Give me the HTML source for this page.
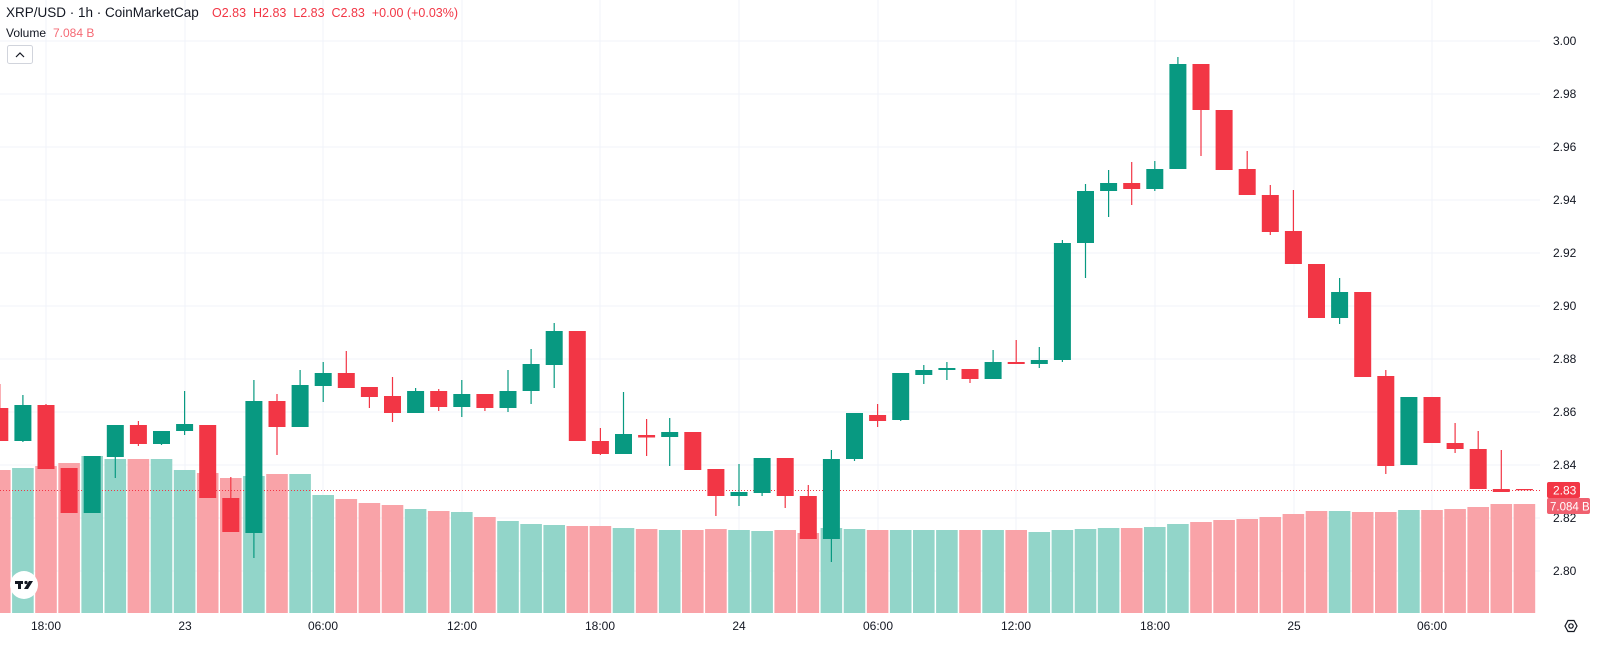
<!DOCTYPE html>
<html><head><meta charset="utf-8"><style>
html,body{margin:0;padding:0;background:#fff;width:1600px;height:647px;overflow:hidden}
svg{display:block;font-family:"Liberation Sans",sans-serif}
.g{fill:#089981}.r{fill:#f23645}.gw{stroke:#089981}.rw{stroke:#f23645}
.vg{fill:#92d5c9}.vr{fill:#f9a3a8}
</style></head><body>
<svg width="1600" height="647" viewBox="0 0 1600 647" xmlns="http://www.w3.org/2000/svg">
<g stroke="#f0f3fa" stroke-width="1">
<line x1="0" x2="1540" y1="41" y2="41"/><line x1="0" x2="1540" y1="94" y2="94"/><line x1="0" x2="1540" y1="147" y2="147"/><line x1="0" x2="1540" y1="200" y2="200"/><line x1="0" x2="1540" y1="253" y2="253"/><line x1="0" x2="1540" y1="306" y2="306"/><line x1="0" x2="1540" y1="359" y2="359"/><line x1="0" x2="1540" y1="412" y2="412"/><line x1="0" x2="1540" y1="465" y2="465"/><line x1="0" x2="1540" y1="518" y2="518"/><line x1="0" x2="1540" y1="571" y2="571"/>
<line x1="46" x2="46" y1="0" y2="613"/><line x1="185" x2="185" y1="0" y2="613"/><line x1="323" x2="323" y1="0" y2="613"/><line x1="462" x2="462" y1="0" y2="613"/><line x1="600" x2="600" y1="0" y2="613"/><line x1="739" x2="739" y1="0" y2="613"/><line x1="878" x2="878" y1="0" y2="613"/><line x1="1016" x2="1016" y1="0" y2="613"/><line x1="1155" x2="1155" y1="0" y2="613"/><line x1="1294" x2="1294" y1="0" y2="613"/><line x1="1432" x2="1432" y1="0" y2="613"/>
</g>
<g>
<rect class="vr" x="-11" y="470" width="21.6" height="143"/>
<rect class="vg" x="12.1" y="468" width="21.6" height="145"/>
<rect class="vr" x="35.2" y="466" width="21.6" height="147"/>
<rect class="vr" x="58.3" y="463" width="21.6" height="150"/>
<rect class="vg" x="81.4" y="456" width="21.6" height="157"/>
<rect class="vg" x="104.5" y="459" width="21.6" height="154"/>
<rect class="vr" x="127.6" y="459" width="21.6" height="154"/>
<rect class="vg" x="150.7" y="459" width="21.6" height="154"/>
<rect class="vg" x="173.8" y="470" width="21.6" height="143"/>
<rect class="vr" x="196.9" y="473" width="21.6" height="140"/>
<rect class="vr" x="220" y="478" width="21.6" height="135"/>
<rect class="vg" x="243.1" y="476" width="21.6" height="137"/>
<rect class="vr" x="266.2" y="474" width="21.6" height="139"/>
<rect class="vg" x="289.3" y="474" width="21.6" height="139"/>
<rect class="vg" x="312.4" y="495" width="21.6" height="118"/>
<rect class="vr" x="335.5" y="499" width="21.6" height="114"/>
<rect class="vr" x="358.6" y="503" width="21.6" height="110"/>
<rect class="vr" x="381.7" y="505" width="21.6" height="108"/>
<rect class="vg" x="404.8" y="509" width="21.6" height="104"/>
<rect class="vr" x="427.9" y="511" width="21.6" height="102"/>
<rect class="vg" x="451" y="512" width="21.6" height="101"/>
<rect class="vr" x="474.1" y="517" width="21.6" height="96"/>
<rect class="vg" x="497.2" y="521" width="21.6" height="92"/>
<rect class="vg" x="520.3" y="524" width="21.6" height="89"/>
<rect class="vg" x="543.4" y="525" width="21.6" height="88"/>
<rect class="vr" x="566.5" y="526" width="21.6" height="87"/>
<rect class="vr" x="589.6" y="526" width="21.6" height="87"/>
<rect class="vg" x="612.7" y="528" width="21.6" height="85"/>
<rect class="vr" x="635.8" y="529" width="21.6" height="84"/>
<rect class="vg" x="658.9" y="530" width="21.6" height="83"/>
<rect class="vr" x="682" y="530" width="21.6" height="83"/>
<rect class="vr" x="705.1" y="529" width="21.6" height="84"/>
<rect class="vg" x="728.2" y="530" width="21.6" height="83"/>
<rect class="vg" x="751.3" y="531" width="21.6" height="82"/>
<rect class="vr" x="774.4" y="530" width="21.6" height="83"/>
<rect class="vr" x="797.5" y="533" width="21.6" height="80"/>
<rect class="vg" x="820.6" y="528" width="21.6" height="85"/>
<rect class="vg" x="843.7" y="529" width="21.6" height="84"/>
<rect class="vr" x="866.8" y="530" width="21.6" height="83"/>
<rect class="vg" x="889.9" y="530" width="21.6" height="83"/>
<rect class="vg" x="913" y="530" width="21.6" height="83"/>
<rect class="vg" x="936.1" y="530" width="21.6" height="83"/>
<rect class="vr" x="959.2" y="530" width="21.6" height="83"/>
<rect class="vg" x="982.3" y="530" width="21.6" height="83"/>
<rect class="vr" x="1005.4" y="530" width="21.6" height="83"/>
<rect class="vg" x="1028.5" y="532" width="21.6" height="81"/>
<rect class="vg" x="1051.6" y="530" width="21.6" height="83"/>
<rect class="vg" x="1074.7" y="529" width="21.6" height="84"/>
<rect class="vg" x="1097.8" y="528" width="21.6" height="85"/>
<rect class="vr" x="1120.9" y="528" width="21.6" height="85"/>
<rect class="vg" x="1144" y="527" width="21.6" height="86"/>
<rect class="vg" x="1167.1" y="524" width="21.6" height="89"/>
<rect class="vr" x="1190.2" y="522" width="21.6" height="91"/>
<rect class="vr" x="1213.3" y="520" width="21.6" height="93"/>
<rect class="vr" x="1236.4" y="519" width="21.6" height="94"/>
<rect class="vr" x="1259.5" y="517" width="21.6" height="96"/>
<rect class="vr" x="1282.6" y="514" width="21.6" height="99"/>
<rect class="vr" x="1305.7" y="511" width="21.6" height="102"/>
<rect class="vg" x="1328.8" y="511" width="21.6" height="102"/>
<rect class="vr" x="1351.9" y="512" width="21.6" height="101"/>
<rect class="vr" x="1375" y="512" width="21.6" height="101"/>
<rect class="vg" x="1398.1" y="510" width="21.6" height="103"/>
<rect class="vr" x="1421.2" y="510" width="21.6" height="103"/>
<rect class="vr" x="1444.3" y="509" width="21.6" height="104"/>
<rect class="vr" x="1467.4" y="507" width="21.6" height="106"/>
<rect class="vr" x="1490.5" y="504" width="21.6" height="109"/>
<rect class="vr" x="1513.6" y="504" width="21.6" height="109"/>
</g>
<line x1="0" x2="1540" y1="490.5" y2="490.5" stroke="#f23645" stroke-width="1" stroke-dasharray="1,2"/>
<g stroke-width="1.2">
<line class="rw" x1="-0.2" x2="-0.2" y1="384" y2="441"/><rect class="r" x="-8.7" y="408" width="17" height="33"/>
<line class="gw" x1="22.9" x2="22.9" y1="395" y2="442"/><rect class="g" x="14.4" y="405" width="17" height="36"/>
<line class="rw" x1="46" x2="46" y1="404" y2="469"/><rect class="r" x="37.5" y="405" width="17" height="64"/>
<rect class="r" x="60.6" y="468" width="17" height="45"/>
<rect class="g" x="83.7" y="456" width="17" height="57"/>
<line class="gw" x1="115.3" x2="115.3" y1="425" y2="478"/><rect class="g" x="106.8" y="425" width="17" height="32"/>
<line class="rw" x1="138.4" x2="138.4" y1="421" y2="446"/><rect class="r" x="129.9" y="425" width="17" height="19"/>
<line class="gw" x1="161.5" x2="161.5" y1="431" y2="445"/><rect class="g" x="153" y="431" width="17" height="13"/>
<line class="gw" x1="184.6" x2="184.6" y1="391" y2="435"/><rect class="g" x="176.1" y="424" width="17" height="7"/>
<rect class="r" x="199.2" y="425" width="17" height="73"/>
<line class="rw" x1="230.8" x2="230.8" y1="477" y2="532"/><rect class="r" x="222.3" y="498" width="17" height="34"/>
<line class="gw" x1="253.9" x2="253.9" y1="380" y2="558"/><rect class="g" x="245.4" y="401" width="17" height="132"/>
<line class="rw" x1="277" x2="277" y1="394" y2="455"/><rect class="r" x="268.5" y="401" width="17" height="26"/>
<line class="gw" x1="300.1" x2="300.1" y1="370" y2="427"/><rect class="g" x="291.6" y="385" width="17" height="42"/>
<line class="gw" x1="323.2" x2="323.2" y1="362" y2="402"/><rect class="g" x="314.7" y="373" width="17" height="13"/>
<line class="rw" x1="346.3" x2="346.3" y1="351" y2="388"/><rect class="r" x="337.8" y="373" width="17" height="15"/>
<line class="rw" x1="369.4" x2="369.4" y1="387" y2="408"/><rect class="r" x="360.9" y="387" width="17" height="10"/>
<line class="rw" x1="392.5" x2="392.5" y1="377" y2="422"/><rect class="r" x="384" y="396" width="17" height="17"/>
<line class="gw" x1="415.6" x2="415.6" y1="388" y2="413"/><rect class="g" x="407.1" y="391" width="17" height="22"/>
<line class="rw" x1="438.7" x2="438.7" y1="389" y2="411"/><rect class="r" x="430.2" y="391" width="17" height="16"/>
<line class="gw" x1="461.8" x2="461.8" y1="380" y2="417"/><rect class="g" x="453.3" y="394" width="17" height="13"/>
<line class="rw" x1="484.9" x2="484.9" y1="394" y2="411"/><rect class="r" x="476.4" y="394" width="17" height="14"/>
<line class="gw" x1="508" x2="508" y1="370" y2="412"/><rect class="g" x="499.5" y="391" width="17" height="17"/>
<line class="gw" x1="531.1" x2="531.1" y1="349" y2="404"/><rect class="g" x="522.6" y="364" width="17" height="27"/>
<line class="gw" x1="554.2" x2="554.2" y1="323" y2="388"/><rect class="g" x="545.7" y="331" width="17" height="34"/>
<rect class="r" x="568.8" y="331" width="17" height="110"/>
<line class="rw" x1="600.4" x2="600.4" y1="428" y2="455"/><rect class="r" x="591.9" y="441" width="17" height="13"/>
<line class="gw" x1="623.5" x2="623.5" y1="392" y2="454"/><rect class="g" x="615" y="434" width="17" height="20"/>
<line class="rw" x1="646.6" x2="646.6" y1="419" y2="456"/><rect class="r" x="638.1" y="435" width="17" height="2.5"/>
<line class="gw" x1="669.7" x2="669.7" y1="418" y2="466"/><rect class="g" x="661.2" y="432" width="17" height="5"/>
<rect class="r" x="684.3" y="432" width="17" height="38"/>
<line class="rw" x1="715.9" x2="715.9" y1="469" y2="516"/><rect class="r" x="707.4" y="469" width="17" height="27"/>
<line class="gw" x1="739" x2="739" y1="464" y2="506"/><rect class="g" x="730.5" y="492" width="17" height="4"/>
<line class="gw" x1="762.1" x2="762.1" y1="458" y2="496"/><rect class="g" x="753.6" y="458" width="17" height="35"/>
<line class="rw" x1="785.2" x2="785.2" y1="458" y2="508"/><rect class="r" x="776.7" y="458" width="17" height="38"/>
<line class="rw" x1="808.3" x2="808.3" y1="485" y2="539"/><rect class="r" x="799.8" y="496" width="17" height="43"/>
<line class="gw" x1="831.4" x2="831.4" y1="450" y2="562"/><rect class="g" x="822.9" y="459" width="17" height="80"/>
<line class="gw" x1="854.5" x2="854.5" y1="413" y2="461"/><rect class="g" x="846" y="413" width="17" height="46"/>
<line class="rw" x1="877.6" x2="877.6" y1="404" y2="427"/><rect class="r" x="869.1" y="415" width="17" height="6"/>
<line class="gw" x1="900.7" x2="900.7" y1="373" y2="421"/><rect class="g" x="892.2" y="373" width="17" height="47"/>
<line class="gw" x1="923.8" x2="923.8" y1="365" y2="384"/><rect class="g" x="915.3" y="370" width="17" height="5"/>
<line class="gw" x1="946.9" x2="946.9" y1="362" y2="380"/><rect class="g" x="938.4" y="368" width="17" height="2"/>
<line class="rw" x1="970" x2="970" y1="369" y2="383"/><rect class="r" x="961.5" y="369" width="17" height="10"/>
<line class="gw" x1="993.1" x2="993.1" y1="350" y2="379"/><rect class="g" x="984.6" y="362" width="17" height="17"/>
<line class="rw" x1="1016.2" x2="1016.2" y1="340" y2="364"/><rect class="r" x="1007.7" y="362" width="17" height="2"/>
<line class="gw" x1="1039.3" x2="1039.3" y1="347" y2="368"/><rect class="g" x="1030.8" y="360" width="17" height="4"/>
<line class="gw" x1="1062.4" x2="1062.4" y1="240" y2="362"/><rect class="g" x="1053.9" y="243" width="17" height="117"/>
<line class="gw" x1="1085.5" x2="1085.5" y1="184" y2="278"/><rect class="g" x="1077" y="191" width="17" height="52"/>
<line class="gw" x1="1108.6" x2="1108.6" y1="170" y2="217"/><rect class="g" x="1100.1" y="183" width="17" height="8"/>
<line class="rw" x1="1131.7" x2="1131.7" y1="162" y2="205"/><rect class="r" x="1123.2" y="183" width="17" height="6"/>
<line class="gw" x1="1154.8" x2="1154.8" y1="161" y2="191"/><rect class="g" x="1146.3" y="169" width="17" height="20"/>
<line class="gw" x1="1177.9" x2="1177.9" y1="57" y2="169"/><rect class="g" x="1169.4" y="64" width="17" height="105"/>
<line class="rw" x1="1201" x2="1201" y1="64" y2="156"/><rect class="r" x="1192.5" y="64" width="17" height="46"/>
<rect class="r" x="1215.6" y="110" width="17" height="60"/>
<line class="rw" x1="1247.2" x2="1247.2" y1="151" y2="195"/><rect class="r" x="1238.7" y="169" width="17" height="26"/>
<line class="rw" x1="1270.3" x2="1270.3" y1="185" y2="235"/><rect class="r" x="1261.8" y="195" width="17" height="37"/>
<line class="rw" x1="1293.4" x2="1293.4" y1="190" y2="264"/><rect class="r" x="1284.9" y="231" width="17" height="33"/>
<rect class="r" x="1308" y="264" width="17" height="54"/>
<line class="gw" x1="1339.6" x2="1339.6" y1="278" y2="324"/><rect class="g" x="1331.1" y="292" width="17" height="26"/>
<rect class="r" x="1354.2" y="292" width="17" height="85"/>
<line class="rw" x1="1385.8" x2="1385.8" y1="370" y2="474"/><rect class="r" x="1377.3" y="376" width="17" height="90"/>
<rect class="g" x="1400.4" y="397" width="17" height="68"/>
<rect class="r" x="1423.5" y="397" width="17" height="46"/>
<line class="rw" x1="1455.1" x2="1455.1" y1="423" y2="453"/><rect class="r" x="1446.6" y="443" width="17" height="6"/>
<line class="rw" x1="1478.2" x2="1478.2" y1="431" y2="489"/><rect class="r" x="1469.7" y="449" width="17" height="40"/>
<line class="rw" x1="1501.3" x2="1501.3" y1="450" y2="492"/><rect class="r" x="1492.8" y="489" width="17" height="3"/>
<rect class="r" x="1515.9" y="489" width="17" height="1.2"/>
</g>
<g font-size="12" fill="#131722">
<text x="1553" y="45">3.00</text><text x="1553" y="98">2.98</text><text x="1553" y="151">2.96</text><text x="1553" y="204">2.94</text><text x="1553" y="257">2.92</text><text x="1553" y="310">2.90</text><text x="1553" y="363">2.88</text><text x="1553" y="416">2.86</text><text x="1553" y="469">2.84</text><text x="1553" y="522">2.82</text><text x="1553" y="575">2.80</text>
</g>
<rect x="1547" y="482" width="33" height="16" rx="2" fill="#f23645"/>
<text x="1553" y="494.5" font-size="12" fill="#fff">2.83</text>
<rect x="1547" y="498" width="43" height="16" rx="2" fill="#f0606f"/>
<text x="1550" y="510.5" font-size="11.5" fill="#fff">7.084 B</text>
<g font-size="12" fill="#131722" text-anchor="middle">
<text x="46" y="630">18:00</text><text x="185" y="630">23</text><text x="323" y="630">06:00</text><text x="462" y="630">12:00</text><text x="600" y="630">18:00</text><text x="739" y="630">24</text><text x="878" y="630">06:00</text><text x="1016" y="630">12:00</text><text x="1155" y="630">18:00</text><text x="1294" y="630">25</text><text x="1432" y="630">06:00</text>
</g>
<g transform="translate(1571,626)" fill="none" stroke="#131722" stroke-width="1.2">
<polygon points="-6,0 -3,-5.5 3,-5.5 6,0 3,5.5 -3,5.5"/><circle r="2.2"/>
</g>
<circle cx="24" cy="585" r="14" fill="#fff"/>
<g fill="#131722">
<rect x="15" y="581" width="8" height="3"/><rect x="18" y="581" width="3" height="8"/>
<circle cx="26" cy="582.5" r="1.6"/>
<polygon points="29,581 33,581 28,589 24,589"/>
</g>
<text x="6" y="17" font-size="13.5" fill="#131722">XRP/USD · 1h · CoinMarketCap</text>
<text x="212" y="17" font-size="12.5" fill="#f23645" xml:space="preserve">O2.83  H2.83  L2.83  C2.83  +0.00 (+0.03%)</text>
<text x="6" y="37" font-size="12" fill="#131722">Volume</text>
<text x="53" y="37" font-size="12" fill="#f23645" opacity="0.75">7.084 B</text>
<rect x="7.5" y="45.5" width="25" height="18" rx="2" fill="#fff" stroke="#d1d4dc"/>
<polyline points="16,57 20,53 24,57" fill="none" stroke="#131722" stroke-width="1.2"/>
</svg>
</body></html>
